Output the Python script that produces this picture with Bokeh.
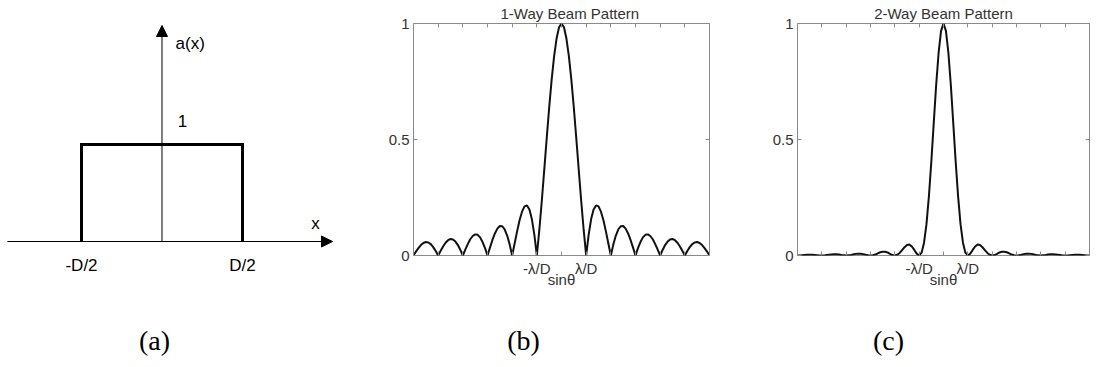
from bokeh.plotting import figure
from bokeh.layouts import row, column
from bokeh.models import Label, Arrow, NormalHead, FixedTicker, LinearAxis, Range1d
from bokeh.embed import file_html
from bokeh.resources import INLINE

# ---------------- data ----------------
# (a) aperture function a(x), x in units of D
aperture_x = [-0.5, -0.5, 0.5, 0.5]
aperture_y = [0, 1, 1, 0]
aperture_ticks = [-0.5, 0.5]
aperture_tick_labels = {-0.5: "-D/2", 0.5: "D/2"}

# (b), (c) beam patterns sampled on sin(theta) in units of lambda/D
sin_theta = [round(-6 + 0.1 * i, 1) for i in range(121)]

one_way = [0, .017, .032, .045, .054, .058, .056, .049, .036, .019,
           0, .020, .039, .055, .066, .071, .069, .060, .045, .024,
           0, .025, .049, .070, .084, .091, .089, .078, .058, .032,
           0, .034, .067, .095, .116, .127, .126, .112, .085, .047,
           0, .052, .104, .152, .189, .212, .216, .198, .156, .089,
           0, .109, .234, .368, .505, .637, .757, .858, .935, .984,
           1.0,
           .984, .935, .858, .757, .637, .505, .368, .234, .109, 0,
           .089, .156, .198, .216, .212, .189, .152, .104, .052, 0,
           .047, .085, .112, .126, .127, .116, .095, .067, .034, 0,
           .032, .058, .078, .089, .091, .084, .070, .049, .025, 0,
           .024, .045, .060, .069, .071, .066, .055, .039, .020, 0,
           .019, .036, .049, .056, .058, .054, .045, .032, .017, 0]

two_way = [0, 0, .001, .002, .003, .003, .003, .002, .001, 0,
           0, 0, .002, .003, .004, .005, .005, .004, .002, .001,
           0, .001, .002, .005, .007, .008, .008, .006, .003, .001,
           0, .001, .004, .009, .014, .016, .016, .013, .007, .002,
           0, .003, .011, .023, .036, .045, .047, .039, .024, .008,
           0, .012, .055, .135, .255, .405, .573, .737, .875, .968,
           1.0,
           .968, .875, .737, .573, .405, .255, .135, .055, .012, 0,
           .008, .024, .039, .047, .045, .036, .023, .011, .003, 0,
           .002, .007, .013, .016, .016, .014, .009, .004, .001, 0,
           .001, .003, .006, .008, .008, .007, .005, .002, .001, 0,
           .001, .002, .004, .005, .005, .004, .003, .002, 0, 0,
           0, .001, .002, .003, .003, .003, .002, .001, 0, 0]

x_ticks = list(range(-6, 7))
y_ticks = [0, 0.5, 1]
x_tick_labels = {-1: "-\u03bb/D", 1: "\u03bb/D"}
y_tick_labels = {0: "0", 0.5: "0.5", 1: "1"}
captions = ["(a)", "(b)", "(c)"]

SANS = "Liberation Sans"
SERIF = "Liberation Serif"
TXT = "#333333"
BOX = "#8a8a8a"
TOP, FH, BOTTOM = 23, 232, 45


def add_label(p, x, y, text, size, font=SANS, align="center", color="black"):
    p.add_layout(Label(x=x, y=y, text=text, text_font=font, text_font_size=size,
                       text_align=align, text_baseline="middle", text_color=color))


# ---------------- panel (a) ----------------
pa = figure(frame_width=372, frame_height=FH, x_range=Range1d(-1.0031, 1.3075),
            y_range=Range1d(-0.1443, 2.2474), y_axis_location=None,
            output_backend="svg", toolbar_location=None,
            min_border_left=0, min_border_right=0, min_border_top=TOP, min_border_bottom=BOTTOM)
pa.grid.visible = False
pa.outline_line_color = None
pa.xaxis.ticker = FixedTicker(ticks=aperture_ticks)
pa.xaxis.major_label_overrides = aperture_tick_labels
pa.xaxis.axis_line_color = None
pa.xaxis.major_tick_line_color = None
pa.xaxis.minor_tick_line_color = None
pa.xaxis.major_tick_in = 0
pa.xaxis.major_tick_out = 0
pa.xaxis.major_label_standoff = 0
pa.xaxis.major_label_text_font = SANS
pa.xaxis.major_label_text_font_size = "17px"
pa.xaxis.major_label_text_color = "black"

pa.add_layout(Arrow(end=NormalHead(size=11, fill_color="black", line_color="black", line_width=1),
                    x_start=-0.96, y_start=0, x_end=1.059, y_end=0, line_width=1, line_color="black"))
pa.add_layout(Arrow(end=NormalHead(size=11, fill_color="black", line_color="black", line_width=1),
                    x_start=0, y_start=0, x_end=0, y_end=2.227, line_width=1, line_color="black"))
pa.line(aperture_x, aperture_y, line_width=3, line_color="black", line_join="miter")

add_label(pa, 0.084, 2.041, "a(x)", "17px", align="left")
add_label(pa, 0.127, 1.247, "1", "17px")
add_label(pa, 0.953, 0.186, "x", "17px")


# ---------------- beam pattern panels ----------------
def beam_panel(values, title, title_align, title_offset, left, right, fw):
    p = figure(frame_width=fw, frame_height=FH, x_range=Range1d(-6, 6), y_range=Range1d(0, 1),
               output_backend="svg", toolbar_location=None,
               min_border_left=left, min_border_right=right, min_border_top=TOP,
               min_border_bottom=BOTTOM)
    p.grid.visible = False
    p.outline_line_color = BOX
    p.outline_line_width = 1

    p.title.text = title
    p.title.align = title_align
    p.title.offset = title_offset
    p.title.standoff = 4
    p.title.text_font = SANS
    p.title.text_font_size = "15px"
    p.title.text_font_style = "normal"
    p.title.text_color = TXT

    p.xaxis.ticker = FixedTicker(ticks=x_ticks)
    p.xaxis.major_label_overrides = {t: x_tick_labels.get(t, "") for t in x_ticks}
    p.yaxis.ticker = FixedTicker(ticks=y_ticks)
    p.yaxis.major_label_overrides = y_tick_labels
    for ax in (p.xaxis[0], p.yaxis[0]):
        ax.axis_line_color = None
        ax.major_tick_in = 4
        ax.major_tick_out = 0
        ax.major_tick_line_color = BOX
        ax.minor_tick_line_color = None
        ax.major_label_text_font = SANS
        ax.major_label_text_font_size = "15px"
        ax.major_label_text_color = TXT
    p.yaxis.major_label_standoff = 4
    p.xaxis.major_label_standoff = 4
    p.xaxis.axis_label = "sin\u03b8"
    p.xaxis.axis_label_text_font = SANS
    p.xaxis.axis_label_text_font_size = "15px"
    p.xaxis.axis_label_text_font_style = "normal"
    p.xaxis.axis_label_text_color = TXT
    p.xaxis.axis_label_standoff = -9

    top_ax = LinearAxis(ticker=FixedTicker(ticks=x_ticks),
                        major_label_overrides={t: "" for t in x_ticks})
    right_ax = LinearAxis(ticker=FixedTicker(ticks=y_ticks),
                          major_label_overrides={t: "" for t in y_ticks})
    for ax in (top_ax, right_ax):
        ax.axis_line_color = None
        ax.major_tick_in = 4
        ax.major_tick_out = 0
        ax.major_tick_line_color = BOX
        ax.minor_tick_line_color = None
        ax.major_label_standoff = 0
        ax.major_label_text_font_size = "0px"
    p.add_layout(top_ax, "above")
    p.add_layout(right_ax, "right")

    p.line(sin_theta, values, line_width=2, line_color="#111111")
    return p


pb = beam_panel(one_way, "1-Way Beam Pattern", "left", 87, left=41, right=31, fw=296)
pc = beam_panel(two_way, "2-Way Beam Pattern", "center", 0, left=57, right=9, fw=292)

# ---------------- captions strip ----------------
caption_x = [154, 523, 888]
caps = figure(width=1098, height=60, x_range=Range1d(0, 1098), y_range=Range1d(60, 0),
              x_axis_location=None, y_axis_location=None, min_border=0,
              output_backend="svg", toolbar_location=None)
caps.grid.visible = False
caps.outline_line_color = None
for cx, ct in zip(caption_x, captions):
    add_label(caps, cx, 40, ct, "28px", font=SERIF)

layout = column(row(pa, pb, pc), caps)
open("out.html", "w").write(file_html(layout, INLINE))
